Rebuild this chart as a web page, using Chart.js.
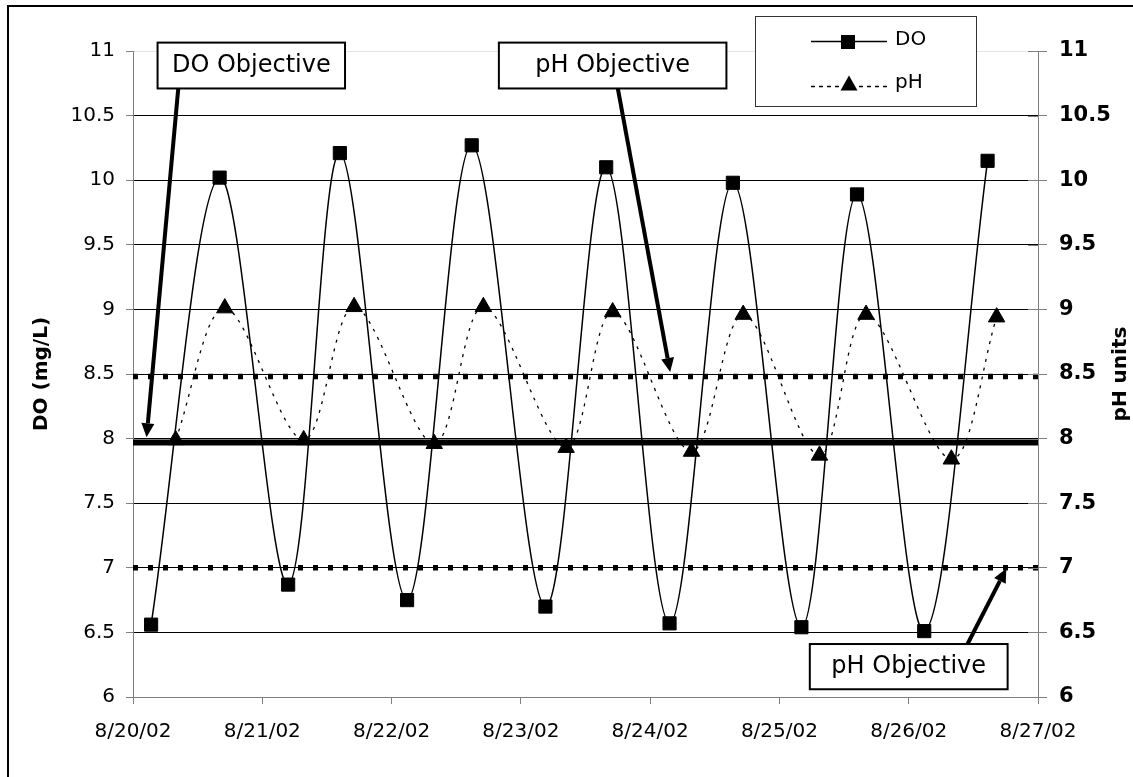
<!DOCTYPE html>
<html>
<head>
<meta charset="utf-8">
<title>DO and pH, 8/20/02 - 8/27/02</title>
<script src="https://cdn.jsdelivr.net/npm/chart.js@4.4.0/dist/chart.umd.min.js"></script>
<style>
  html, body { margin: 0; padding: 0; background: #fff; }
  #chart { display: block; }
</style>
</head>
<body>
<canvas id="chart" width="1133" height="777"></canvas>
<script>
// x values are days after 8/20/02 00:00
const dateLabels = ["8/20/02", "8/21/02", "8/22/02", "8/23/02", "8/24/02", "8/25/02", "8/26/02", "8/27/02"];

const doDays = [0.14, 0.67, 1.20, 1.60, 2.12, 2.62, 3.19, 3.66, 4.15, 4.64, 5.17, 5.60, 6.12, 6.61];
const doValues = [6.56, 10.02, 6.87, 10.21, 6.75, 10.27, 6.70, 10.10, 6.57, 9.98, 6.54, 9.89, 6.51, 10.15];

const phDays = [0.33, 0.71, 1.32, 1.71, 2.33, 2.71, 3.35, 3.71, 4.32, 4.72, 5.31, 5.67, 6.33, 6.68];
const phValues = [7.99, 9.01, 7.99, 9.02, 7.96, 9.02, 7.93, 8.98, 7.90, 8.96, 7.87, 8.96, 7.84, 8.94];

const doObjective = 7.97;
const phObjectiveHigh = 8.48;
const phObjectiveLow = 7.0;

// callouts, in data units: box [x1, y1, x2, y2], arrow from -> to
const callouts = [
  { text: "DO Objective", box: [0.19, 11.065, 1.64, 10.71], from: [0.35, 10.71], to: [0.105, 8.01] },
  { text: "pH Objective", box: [2.83, 11.065, 4.59, 10.71], from: [3.75, 10.71], to: [4.155, 8.515] },
  { text: "pH Objective", box: [5.235, 6.41, 6.765, 6.06], from: [6.455, 6.41], to: [6.755, 6.995] },
];

const FONT = "'DejaVu Sans', sans-serif";
const GREY = "#808080";

function toPoints(xs, ys) {
  return xs.map((x, i) => ({ x: x, y: ys[i] }));
}

function flatLine(value) {
  return [{ x: 0, y: value }, { x: dateLabels.length - 1, y: value }];
}

function drawArrow(ctx, x1, y1, x2, y2) {
  const ang = Math.atan2(y2 - y1, x2 - x1);
  const head = 14, half = 6.5;
  const bx = x2 - Math.cos(ang) * head;
  const by = y2 - Math.sin(ang) * head;
  ctx.beginPath();
  ctx.moveTo(x1, y1);
  ctx.lineTo(bx, by);
  ctx.lineWidth = 4;
  ctx.strokeStyle = "#000";
  ctx.stroke();
  ctx.beginPath();
  ctx.moveTo(x2, y2);
  ctx.lineTo(bx - Math.sin(ang) * half, by + Math.cos(ang) * half);
  ctx.lineTo(bx + Math.sin(ang) * half, by - Math.cos(ang) * half);
  ctx.closePath();
  ctx.fillStyle = "#000";
  ctx.fill();
}

const extras = {
  id: "extras",
  afterDraw(chart) {
    const ctx = chart.ctx;
    const xs = chart.scales.x, ys = chart.scales.y, y1s = chart.scales.y1;
    ctx.save();

    // outer frame (only top and left edges are inside the picture)
    ctx.strokeStyle = "#000";
    ctx.lineWidth = 2;
    ctx.beginPath();
    ctx.moveTo(8, chart.height);
    ctx.lineTo(8, 6);
    ctx.lineTo(chart.width, 6);
    ctx.stroke();

    // right axis ticks also cross into the plot
    ctx.strokeStyle = GREY;
    ctx.lineWidth = 1;
    y1s.ticks.forEach((t) => {
      const py = Math.round(y1s.getPixelForValue(t.value)) + 0.5;
      ctx.beginPath();
      ctx.moveTo(y1s.left - 10, py);
      ctx.lineTo(y1s.left, py);
      ctx.stroke();
    });

    // right axis title, reading bottom to top
    ctx.save();
    ctx.translate(1121, (chart.chartArea.top + chart.chartArea.bottom) / 2);
    ctx.rotate(-Math.PI / 2);
    ctx.font = "bold 20px " + FONT;
    ctx.fillStyle = "#000";
    ctx.textAlign = "center";
    ctx.textBaseline = "middle";
    ctx.fillText("pH units", 0, 0);
    ctx.restore();

    // callouts
    callouts.forEach((c) => {
      const bx1 = xs.getPixelForValue(c.box[0]), by1 = ys.getPixelForValue(c.box[1]);
      const bx2 = xs.getPixelForValue(c.box[2]), by2 = ys.getPixelForValue(c.box[3]);
      drawArrow(ctx, xs.getPixelForValue(c.from[0]), ys.getPixelForValue(c.from[1]),
        xs.getPixelForValue(c.to[0]), ys.getPixelForValue(c.to[1]));
      ctx.fillStyle = "#fff";
      ctx.fillRect(bx1, by1, bx2 - bx1, by2 - by1);
      ctx.strokeStyle = "#000";
      ctx.lineWidth = 2;
      ctx.strokeRect(bx1, by1, bx2 - bx1, by2 - by1);
      ctx.fillStyle = "#000";
      ctx.font = "24px " + FONT;
      ctx.textAlign = "center";
      ctx.textBaseline = "middle";
      ctx.fillText(c.text, (bx1 + bx2) / 2, (by1 + by2) / 2);
    });

    // legend
    ctx.fillStyle = "#fff";
    ctx.fillRect(755.5, 16.5, 221, 90);
    ctx.strokeStyle = "#333";
    ctx.lineWidth = 1;
    ctx.strokeRect(755.5, 16.5, 221, 90);

    ctx.strokeStyle = "#000";
    ctx.lineWidth = 1.5;
    ctx.beginPath();
    ctx.moveTo(811, 41.5);
    ctx.lineTo(887, 41.5);
    ctx.stroke();
    ctx.fillStyle = "#000";
    ctx.fillRect(841, 35, 14, 14);

    ctx.setLineDash([4, 4]);
    ctx.beginPath();
    ctx.moveTo(811, 86.5);
    ctx.lineTo(887, 86.5);
    ctx.stroke();
    ctx.setLineDash([]);
    ctx.beginPath();
    ctx.moveTo(849, 75.5);
    ctx.lineTo(857.5, 90.5);
    ctx.lineTo(840.5, 90.5);
    ctx.closePath();
    ctx.fill();

    ctx.font = "20px " + FONT;
    ctx.textAlign = "left";
    ctx.textBaseline = "middle";
    ctx.fillText("DO", 895, 40);
    ctx.fillText("pH", 895, 83);

    ctx.restore();
  },
};

new Chart(document.getElementById("chart"), {
  type: "line",
  data: {
    datasets: [
      {
        label: "DO",
        data: toPoints(doDays, doValues),
        borderColor: "#000",
        backgroundColor: "#000",
        borderWidth: 1.5,
        tension: 0.33,
        pointStyle: "rect",
        pointRadius: 9.3,
        pointBorderWidth: 1,
        yAxisID: "y",
      },
      {
        label: "pH",
        data: toPoints(phDays, phValues),
        borderColor: "#000",
        backgroundColor: "#000",
        borderWidth: 1.3,
        borderDash: [3, 6],
        tension: 0.33,
        pointStyle: "triangle",
        pointRadius: 9.5,
        pointBorderWidth: 1,
        yAxisID: "y1",
      },
      {
        label: "DO objective",
        data: flatLine(doObjective),
        borderColor: "#000",
        borderWidth: 6,
        pointRadius: 0,
        tension: 0,
        yAxisID: "y",
      },
      {
        label: "pH objective high",
        data: flatLine(phObjectiveHigh),
        borderColor: "#000",
        borderWidth: 5.5,
        borderDash: [5, 10],
        borderCapStyle: "butt",
        pointRadius: 0,
        tension: 0,
        yAxisID: "y1",
      },
      {
        label: "pH objective low",
        data: flatLine(phObjectiveLow),
        borderColor: "#000",
        borderWidth: 5.5,
        borderDash: [5, 10],
        borderCapStyle: "butt",
        pointRadius: 0,
        tension: 0,
        yAxisID: "y1",
      },
    ],
  },
  options: {
    responsive: false,
    animation: false,
    devicePixelRatio: 1,
    layout: { padding: { top: 51, left: 0, right: 0, bottom: 0 } },
    plugins: {
      legend: { display: false },
      tooltip: { enabled: false },
    },
    scales: {
      x: {
        type: "linear",
        min: 0,
        max: dateLabels.length - 1,
        afterFit: (s) => { s.height = 80; },
        border: { color: GREY, width: 1 },
        grid: { drawOnChartArea: false, tickLength: 7, color: GREY },
        ticks: {
          stepSize: 1,
          autoSkip: false,
          maxRotation: 0,
          padding: 16,
          color: "#000",
          font: { family: FONT, size: 20 },
          callback: (v) => dateLabels[v],
        },
      },
      y: {
        position: "left",
        min: 6,
        max: 11,
        afterFit: (s) => { s.width = 133; },
        border: { color: GREY, width: 1 },
        grid: {
          tickLength: 7,
          tickColor: GREY,
          color: (c) => (c.tick.value === 11 ? "#e4e4e4" : c.tick.value === 6 ? "rgba(0,0,0,0)" : "#000"),
        },
        ticks: {
          stepSize: 0.5,
          padding: 11,
          color: "#000",
          font: { family: FONT, size: 20 },
          callback: (v) => String(v),
        },
        title: {
          display: true,
          text: "DO (mg/L)",
          color: "#000",
          font: { family: FONT, size: 20, weight: "bold" },
          padding: { top: 30, bottom: 0 },
        },
      },
      y1: {
        position: "right",
        min: 6,
        max: 11,
        afterFit: (s) => { s.width = 95; },
        border: { color: GREY, width: 1 },
        grid: { drawOnChartArea: false, tickLength: 9, color: GREY },
        ticks: {
          stepSize: 0.5,
          padding: 12,
          color: "#000",
          font: { family: FONT, size: 21, weight: "bold" },
          callback: (v) => String(v),
        },
      },
    },
  },
  plugins: [extras],
});
</script>
</body>
</html>
